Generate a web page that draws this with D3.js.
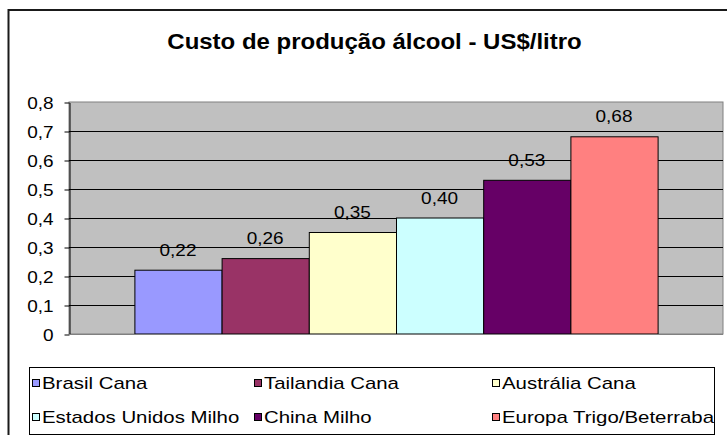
<!DOCTYPE html>
<html>
<head>
<meta charset="utf-8">
<script src="https://cdn.jsdelivr.net/npm/d3@7"></script>
<style>
  body { margin: 0; background: #fff; }
  svg { display: block; font-family: "Liberation Sans", Arial, sans-serif; }
</style>
</head>
<body>
<div id="chart"></div>
<script>
// data
const series = ["Brasil Cana", "Tailandia Cana", "Austrália Cana", "Estados Unidos Milho", "China Milho", "Europa Trigo/Beterraba"];
const values = [0.22, 0.26, 0.35, 0.40, 0.53, 0.68];
const colors = ["#9999FF", "#993366", "#FFFFCC", "#CCFFFF", "#660066", "#FF8080"];
const yTicks = [0, 0.1, 0.2, 0.3, 0.4, 0.5, 0.6, 0.7, 0.8];

const width = 727, height = 435;
const plot = {left: 69, right: 723, top: 102, bottom: 334};

const locale = d3.formatLocale({decimal: ",", thousands: ".", grouping: [3], currency: ["", ""]});
const tickFmt = d => d === 0 ? "0" : locale.format(".1f")(d);
const labelFmt = locale.format(".2f");

// the original picture is a bit wider than tall, so the text is stretched sideways
function stretch(sel, k) {
    sel.each(function() {
        const len = this.getComputedTextLength();
        d3.select(this)
            .attr("textLength", len * k)
            .attr("lengthAdjust", "spacingAndGlyphs");
    });
}

const svg = d3.select("#chart")
    .append("svg")
    .attr("width", width)
    .attr("height", height);

/* chart area border */
svg.append("rect")
    .attr("x", 8.5).attr("y", 10)
    .attr("width", 740).attr("height", 440)
    .attr("fill", "#fff")
    .attr("stroke", "#1a1a1a")
    .attr("stroke-width", 2);

svg.append("text")
    .attr("x", 374.5)
    .attr("y", 49)
    .attr("text-anchor", "middle")
    .style("font-size", "22px")
    .style("font-weight", "bold")
    .text("Custo de produção álcool - US$/litro")
    .call(stretch, 1.09);

/* scales: one category, six series, gap width 150% */
const xScale = d3.scaleBand()
    .domain(series)
    .range([plot.left, plot.right])
    .paddingInner(0)
    .paddingOuter(0.75);
const yScale = d3.scaleLinear()
    .domain([0, 0.8])
    .range([plot.bottom, plot.top]);
const color = d3.scaleOrdinal().domain(series).range(colors);

// plot area
svg.append("rect")
    .attr("x", plot.left).attr("y", plot.top)
    .attr("width", plot.right - plot.left)
    .attr("height", plot.bottom - plot.top)
    .attr("fill", "#C0C0C0")
    .attr("stroke", "#808080")
    .attr("stroke-width", 1);

// gridlines
svg.append("g")
    .selectAll("line")
    .data(yTicks.filter(d => d > 0 && d < 0.8))
    .join("line")
    .attr("x1", plot.left).attr("x2", plot.right)
    .attr("y1", d => Math.round(yScale(d)) + 0.5)
    .attr("y2", d => Math.round(yScale(d)) + 0.5)
    .attr("stroke", "#000")
    .attr("stroke-width", 1);

// y axis
const yGroup = svg.append("g")
    .attr("transform", `translate(${plot.left + 0.5},0.5)`)
    .call(d3.axisLeft(yScale).tickValues(yTicks).tickFormat(tickFmt).tickSize(5).tickSizeOuter(0).tickPadding(11));
yGroup.select(".domain").attr("stroke", "#000");
yGroup.selectAll("line").attr("stroke", "#000");
yGroup.selectAll("text")
    .attr("dy", "0.36em")
    .style("font-size", "16.5px")
    .style("font-family", "'Liberation Sans', Arial, sans-serif")
    .attr("fill", "#000")
    .call(stretch, 1.15);

// bars
const data = series.map((s, i) => ({name: s, value: values[i]}));
svg.append("g")
    .selectAll("rect")
    .data(data)
    .join("rect")
    .attr("x", d => xScale(d.name) + 0.5)
    .attr("y", d => yScale(d.value))
    .attr("width", xScale.bandwidth())
    .attr("height", d => yScale(0) - yScale(d.value))
    .attr("fill", d => color(d.name))
    .attr("stroke", "#000")
    .attr("stroke-width", 1);

// value labels
svg.append("g")
    .selectAll("text")
    .data(data)
    .join("text")
    .attr("x", d => xScale(d.name) + xScale.bandwidth() / 2)
    .attr("y", d => yScale(d.value) - 14.5)
    .attr("text-anchor", "middle")
    .style("font-size", "16.5px")
    .text(d => labelFmt(d.value))
    .call(stretch, 1.15);

// bottom edge
svg.append("line")
    .attr("x1", plot.left).attr("x2", plot.right)
    .attr("y1", plot.bottom + 0.5).attr("y2", plot.bottom + 0.5)
    .attr("stroke", "#808080");

// legend
svg.append("rect")
    .attr("x", 29.5).attr("y", 367.5)
    .attr("width", 685).attr("height", 67)
    .attr("fill", "#fff")
    .attr("stroke", "#000");

const colX = [32, 254, 492];
const rowY = [383, 417];
const item = svg.append("g")
    .selectAll("g")
    .data(data)
    .join("g")
    .attr("transform", (d, i) => `translate(${colX[i % 3]},${rowY[Math.floor(i / 3)]})`);
item.append("rect")
    .attr("x", 0.5).attr("y", -3.5)
    .attr("width", 7).attr("height", 7)
    .attr("fill", d => color(d.name))
    .attr("stroke", "#000");
item.append("text")
    .attr("x", 10)
    .attr("y", 6)
    .style("font-size", "17px")
    .text(d => d.name)
    .call(stretch, 1.2);
</script>
</body>
</html>
